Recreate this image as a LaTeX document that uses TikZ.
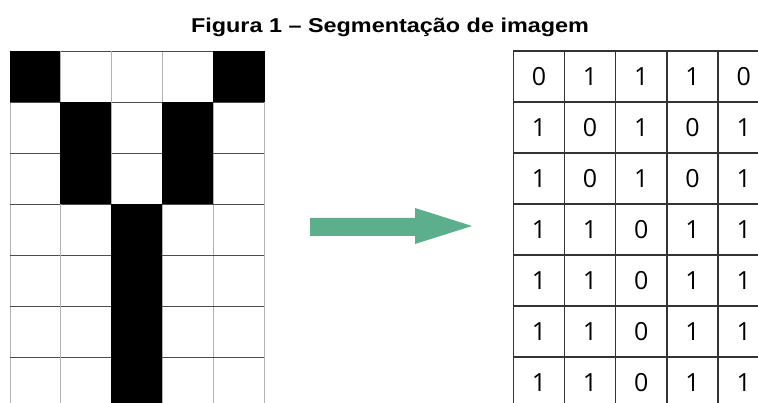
\documentclass[tikz,border=0pt]{standalone}
\usepackage{fontspec}
\setmainfont{Liberation Sans}
\newfontfamily\titulofonte[FakeStretch=1.17]{Liberation Sans}
\newfontfamily\digitos{Open Sans}
\usetikzlibrary{positioning}
\definecolor{setaverde}{RGB}{91,175,140}

\begin{document}
\begin{tikzpicture}[
   x=1pt, y=-1pt,
   pixel/.style={draw=gray!60, line width=0.9pt, minimum width=50.8pt,
                 minimum height=51pt, inner sep=0pt, outer sep=0pt},
   borda/.style={draw=black!70, line width=0.9pt},
   celula/.style={draw=black!80, line width=1.4pt, minimum width=51.2pt,
                  minimum height=51pt, inner sep=0pt, outer sep=0pt,
                  font=\digitos\fontsize{25}{25}\selectfont},
   titulo/.style={font=\titulofonte\bfseries\fontsize{20}{20}\selectfont, anchor=base}]

  \clip (0,0) rectangle (758,403);

  \node[titulo] (tit) at (390,33) {Figura 1 – Segmentação de imagem};

  \foreach \linha [count=\i] in {{0,1,1,1,0},{1,0,1,0,1},{1,0,1,0,1},
      {1,1,0,1,1},{1,1,0,1,1},{1,1,0,1,1},{1,1,0,1,1}} {
    \foreach \v [count=\j] in \linha {
      \ifnum\v=0
        \node[pixel, fill=black, draw=black] (img-\i-\j)
             at ({10+50.8*(\j-0.5)}, {51+51*(\i-0.5)}) {};
      \else
        \node[pixel] (img-\i-\j)
             at ({10+50.8*(\j-0.5)}, {51+51*(\i-0.5)}) {};
        \draw[borda] (img-\i-\j.north west) -- (img-\i-\j.north east);
        \draw[borda] (img-\i-\j.south west) -- (img-\i-\j.south east);
      \fi
      \node[celula] (mat-\i-\j)
           at ({513.3+51.2*(\j-0.5)}, {51+51*(\i-0.5)}) {\v};
    }
  }

  \fill[setaverde] (310,218) -- (415,218) -- (415,208) -- (472,226)
       -- (415,244) -- (415,236) -- (310,236) -- cycle;
\end{tikzpicture}
\end{document}
